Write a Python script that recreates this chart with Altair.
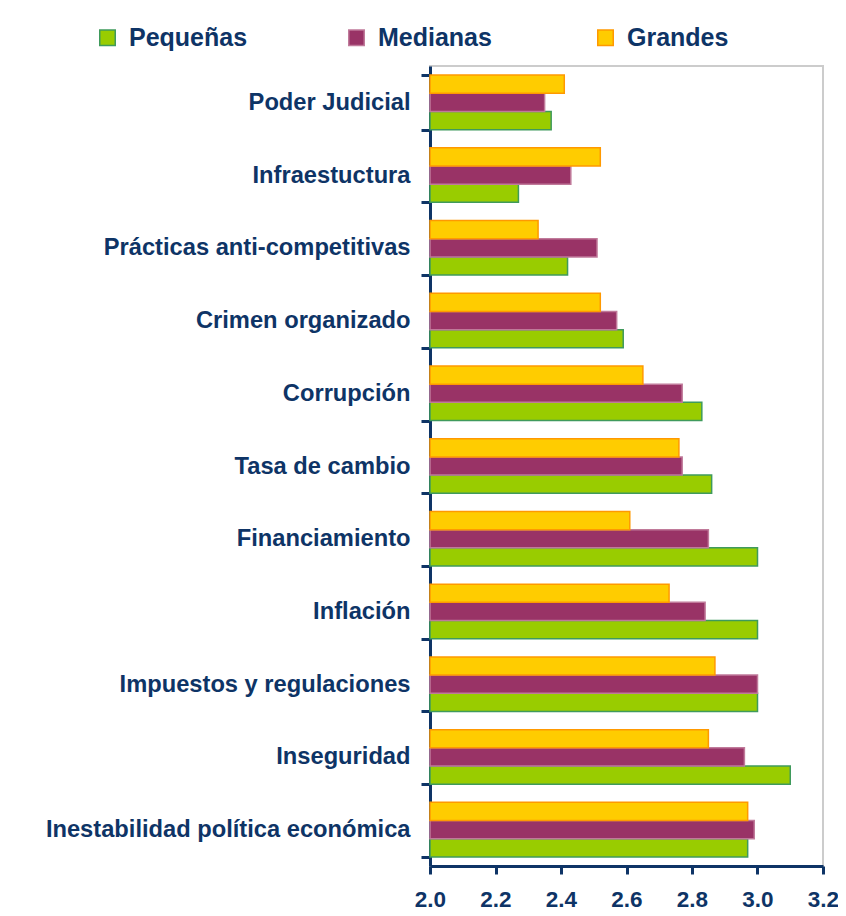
import altair as alt
import pandas as pd

categorias = [
    "Poder Judicial",
    "Infraestuctura",
    "Prácticas anti-competitivas",
    "Crimen organizado",
    "Corrupción",
    "Tasa de cambio",
    "Financiamiento",
    "Inflación",
    "Impuestos y regulaciones",
    "Inseguridad",
    "Inestabilidad política económica",
]
pequenas = [2.37, 2.27, 2.42, 2.59, 2.83, 2.86, 3.00, 3.00, 3.00, 3.10, 2.97]
medianas = [2.35, 2.43, 2.51, 2.57, 2.77, 2.77, 2.85, 2.84, 3.00, 2.96, 2.99]
grandes = [2.41, 2.52, 2.33, 2.52, 2.65, 2.76, 2.61, 2.73, 2.87, 2.85, 2.97]
series = ["Pequeñas", "Medianas", "Grandes"]
ticks_x = [2.0, 2.2, 2.4, 2.6, 2.8, 3.0, 3.2]

rows = []
for serie, vals in zip(series, [pequenas, medianas, grandes]):
    for c, v in zip(categorias, vals):
        rows.append({"categoria": c, "serie": serie, "valor": v, "base": 2.0})
df = pd.DataFrame(rows)

NAVY = "#0E3466"
FONT = "Liberation Sans"

fill_scale = alt.Scale(domain=series, range=["#99CC00", "#993366", "#FFCC00"])
stroke_scale = alt.Scale(domain=series, range=["#3F9A5C", "#C07A9A", "#FF9900"])

legend = alt.Legend(
    title=None,
    orient="none",
    legendX=-335,
    legendY=-41,
    direction="horizontal",
    columns=3,
    gridAlign="all",
    columnPadding=96,
    symbolType="square",
    symbolSize=240,
    symbolStrokeWidth=1.5,
    symbolOpacity=1,
    labelFont=FONT,
    labelFontSize=25,
    labelFontWeight="bold",
    labelColor=NAVY,
    labelOffset=9,
    labelLimit=300,
)

chart = (
    alt.Chart(df)
    .mark_bar(strokeWidth=1.5, opacity=1)
    .encode(
        y=alt.Y(
            "categoria:N",
            sort=categorias,
            title=None,
            scale=alt.Scale(paddingInner=0.25, paddingOuter=0.125),
            axis=alt.Axis(
                labelFont=FONT,
                labelFontSize=23.7,
                labelFontWeight="bold",
                labelColor=NAVY,
                labelPadding=11,
                labelLimit=420,
                tickBand="extent",
                tickSize=9,
                tickWidth=3,
                tickColor=NAVY,
                domainColor=NAVY,
                domainWidth=3,
                grid=False,
            ),
        ),
        yOffset=alt.YOffset(
            "serie:N",
            sort=["Grandes", "Medianas", "Pequeñas"],
            scale=alt.Scale(paddingInner=0, paddingOuter=0),
        ),
        x=alt.X(
            "valor:Q",
            title=None,
            scale=alt.Scale(domain=[2.0, 3.2], zero=False, nice=False),
            axis=alt.Axis(
                values=ticks_x,
                format=".1f",
                labelFont=FONT,
                labelFontSize=22.5,
                labelFontWeight="bold",
                labelColor=NAVY,
                labelPadding=14,
                tickSize=8,
                tickWidth=3,
                tickColor=NAVY,
                domainColor=NAVY,
                domainWidth=3,
                grid=False,
                labelFlush=False,
            ),
        ),
        x2="base:Q",
        color=alt.Color("serie:N", scale=fill_scale, sort=series, legend=legend),
        stroke=alt.Stroke("serie:N", scale=stroke_scale, sort=series, legend=legend),
    )
    .properties(
        width=393,
        height=800,
        autosize=alt.AutoSizeParams(type="none"),
        padding={"left": 422, "top": 58, "right": 15, "bottom": 50},
        background="white",
    )
    .configure_view(stroke="#CCCCCC", strokeWidth=2)
)

chart.save("out.html", embed_options={"renderer": "svg", "actions": False})
